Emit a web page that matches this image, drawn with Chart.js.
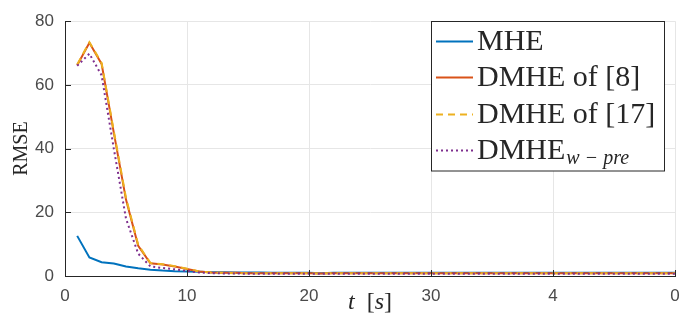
<!DOCTYPE html>
<html>
<head>
<meta charset="utf-8">
<script src="https://cdn.jsdelivr.net/npm/chart.js@4"></script>
<style>
  html, body { margin: 0; padding: 0; background: #fff; }
  #wrap { width: 700px; height: 320px; }
</style>
</head>
<body>
<div id="wrap"><canvas id="myChart" width="700" height="320"></canvas></div>
<script>
// time axis (s)
var tVals = [
  1, 2, 3, 4, 5, 6, 7, 8, 9, 10,
  11, 12, 13, 14, 15, 16, 17, 18, 19, 20,
  21, 22, 23, 24, 25, 26, 27, 28, 29, 30,
  31, 32, 33, 34, 35, 36, 37, 38, 39, 40,
  41, 42, 43, 44, 45, 46, 47, 48, 49, 50
];
var mheVals = [
  12.6, 5.8, 4.3, 3.9, 3.0, 2.4, 2.0, 1.7, 1.5, 1.4,
  1.3, 1.2, 1.2, 1.1, 1.1, 1.1, 1.0, 1.0, 1.0, 1.0,
  0.9, 1.0, 1.0, 1.0, 1.0, 1.0, 1.0, 1.0, 1.0, 1.0,
  1.0, 1.0, 1.0, 1.0, 1.0, 1.0, 1.0, 1.0, 1.0, 1.0,
  1.0, 1.0, 1.0, 1.0, 1.0, 1.0, 1.0, 1.0, 1.0, 1.0
];
var dmhe8Vals = [
  66.2, 73.2, 66.6, 45.0, 24.0, 9.5, 4.0, 3.6, 3.0, 2.2,
  1.4, 1.1, 1.0, 1.0, 0.9, 0.9, 0.9, 0.9, 0.9, 0.9,
  0.8, 0.9, 0.9, 0.9, 0.9, 0.9, 0.9, 0.9, 0.9, 0.9,
  0.9, 0.9, 0.9, 0.9, 0.9, 0.9, 0.9, 0.9, 0.9, 0.9,
  0.9, 0.9, 0.9, 0.9, 0.9, 0.9, 0.9, 0.9, 0.9, 0.9
];
var dmhe17Vals = [
  66.4, 73.4, 66.9, 45.5, 24.5, 9.8, 4.1, 3.7, 3.1, 2.3,
  1.4, 1.1, 1.0, 0.9, 0.9, 0.9, 0.9, 0.9, 0.9, 0.9,
  0.8, 0.9, 0.9, 0.9, 0.9, 0.9, 0.9, 0.9, 0.9, 0.9,
  0.9, 0.9, 0.9, 0.9, 0.9, 0.9, 0.9, 0.9, 0.9, 0.9,
  0.9, 0.9, 0.9, 0.9, 0.9, 0.9, 0.9, 0.9, 0.9, 0.9
];
var wpreVals = [
  66.0, 69.8, 63.0, 40.0, 18.0, 7.0, 3.0, 2.5, 2.1, 1.6,
  1.1, 0.9, 0.8, 0.8, 0.7, 0.7, 0.7, 0.7, 0.7, 0.7,
  0.7, 0.7, 0.7, 0.7, 0.7, 0.7, 0.7, 0.7, 0.7, 0.7,
  0.7, 0.7, 0.7, 0.7, 0.7, 0.7, 0.7, 0.7, 0.7, 0.7,
  0.7, 0.7, 0.7, 0.7, 0.7, 0.7, 0.7, 0.7, 0.7, 0.7
];
// tick labels as printed (40 and 50 are cut in the original)
var xTickLabels = { 0: '0', 10: '10', 20: '20', 30: '30', 40: '4', 50: '0' };
var yTickLabels = { 0: '0', 20: '20', 40: '40', 60: '60', 80: '80' };
var seriesNames = ['MHE', 'DMHE of [8]', 'DMHE of [17]', 'DMHE'];
var seriesSub = ['', '', '', 'w \u2212 pre'];
var seriesColors = ['#0072BD', '#D95319', '#EDB120', '#7E2F8E'];
var seriesDash = [[], [], [7, 5], [2, 3]];

function toPoints(vals) {
  return tVals.map(function (t, i) { return { x: t, y: vals[i] }; });
}

var seriesVals = [mheVals, dmhe8Vals, dmhe17Vals, wpreVals];
var datasets = seriesVals.map(function (vals, i) {
  return {
    label: seriesNames[i] + seriesSub[i],
    data: toPoints(vals),
    borderColor: seriesColors[i],
    backgroundColor: seriesColors[i],
    borderWidth: 2,
    borderDash: seriesDash[i],
    pointRadius: 0,
    tension: 0,
    fill: false,
    order: 4 - i
  };
});

// 안쪽 눈금, x축 제목, 범례 그리기
const extrasPlugin = {
  id: 'extras',
  afterDatasetsDraw(chart) {
    const ctx = chart.ctx;
    const ca = chart.chartArea;
    const xs = chart.scales.x, ys = chart.scales.y;
    ctx.save();
    ctx.strokeStyle = '#262626';
    ctx.lineWidth = 1;
    ctx.beginPath();
    [0, 10, 20, 30, 40, 50].forEach(function (v) {
      const px = Math.round(xs.getPixelForValue(v)) + 0.5;
      ctx.moveTo(px, ca.bottom);
      ctx.lineTo(px, ca.bottom - 6);
    });
    [0, 20, 40, 60, 80].forEach(function (v) {
      const py = Math.round(ys.getPixelForValue(v)) + 0.5;
      ctx.moveTo(ca.left, py);
      ctx.lineTo(ca.left + 6, py);
    });
    ctx.stroke();

    // x title: t [s]
    ctx.fillStyle = '#262626';
    ctx.textBaseline = 'alphabetic';
    const parts = [
      ['italic 24px "Liberation Serif"', 't'],
      ['24px "Liberation Serif"', '  ['],
      ['italic 24px "Liberation Serif"', 's'],
      ['24px "Liberation Serif"', ']']
    ];
    let total = 0;
    parts.forEach(function (p) { ctx.font = p[0]; total += ctx.measureText(p[1]).width; });
    let cx = (ca.left + ca.right) / 2 - total / 2;
    parts.forEach(function (p) {
      ctx.font = p[0];
      ctx.fillText(p[1], cx, 309);
      cx += ctx.measureText(p[1]).width;
    });

    // legend
    const bx = 431.5, by = 21.5, bw = 233, bh = 149.5;
    ctx.fillStyle = '#fff';
    ctx.fillRect(bx, by, bw, bh);
    ctx.strokeStyle = '#262626';
    ctx.lineWidth = 1;
    ctx.strokeRect(bx, by, bw, bh);
    const baselines = [50, 86, 123, 159];
    for (let i = 0; i < seriesNames.length; i++) {
      const ly = baselines[i] - 8.5;
      ctx.strokeStyle = seriesColors[i];
      ctx.lineWidth = 2;
      ctx.setLineDash(seriesDash[i]);
      ctx.beginPath();
      ctx.moveTo(436, ly);
      ctx.lineTo(473, ly);
      ctx.stroke();
      ctx.setLineDash([]);
      ctx.fillStyle = '#262626';
      ctx.font = '30px "Liberation Serif"';
      ctx.fillText(seriesNames[i], 477, baselines[i]);
      if (seriesSub[i]) {
        const w = ctx.measureText(seriesNames[i]).width;
        ctx.font = 'italic 20px "Liberation Serif"';
        ctx.fillText(seriesSub[i], 477 + w + 1, baselines[i] + 5);
      }
    }
    ctx.restore();
  }
};

const chartConfig = {
  type: 'line',
  data: { datasets: datasets },
  options: {
    responsive: false,
    animation: false,
    layout: { padding: { left: 0, right: 25, top: 12, bottom: 0 } },
    plugins: {
      legend: { display: false },
      title: { display: false },
      tooltip: { enabled: false }
    },
    scales: {
      x: {
        type: 'linear',
        min: 0,
        max: 50,
        afterFit: function (s) { s.height = 44; },
        grid: { color: '#e6e6e6', drawTicks: false },
        border: { color: '#262626', width: 1 },
        ticks: {
          stepSize: 10,
          padding: 10,
          color: '#4a4a4a',
          font: { family: '"Liberation Sans", Arial', size: 17 },
          callback: function (v) { return xTickLabels[v]; }
        }
      },
      y: {
        min: 0,
        max: 80,
        afterFit: function (s) { s.width = 65; },
        grid: { color: '#e6e6e6', drawTicks: false },
        border: { color: '#262626', width: 1 },
        title: {
          display: true,
          text: 'RMSE',
          color: '#262626',
          padding: { top: 10, bottom: 0 },
          font: { family: '"Liberation Serif"', size: 20 }
        },
        ticks: {
          stepSize: 20,
          padding: 11,
          color: '#4a4a4a',
          font: { family: '"Liberation Sans", Arial', size: 17 },
          callback: function (v) { return yTickLabels[v]; }
        }
      }
    }
  },
  plugins: [extrasPlugin]
};

var myChart = new Chart(document.querySelector('#myChart'), chartConfig);
</script>
</body>
</html>
